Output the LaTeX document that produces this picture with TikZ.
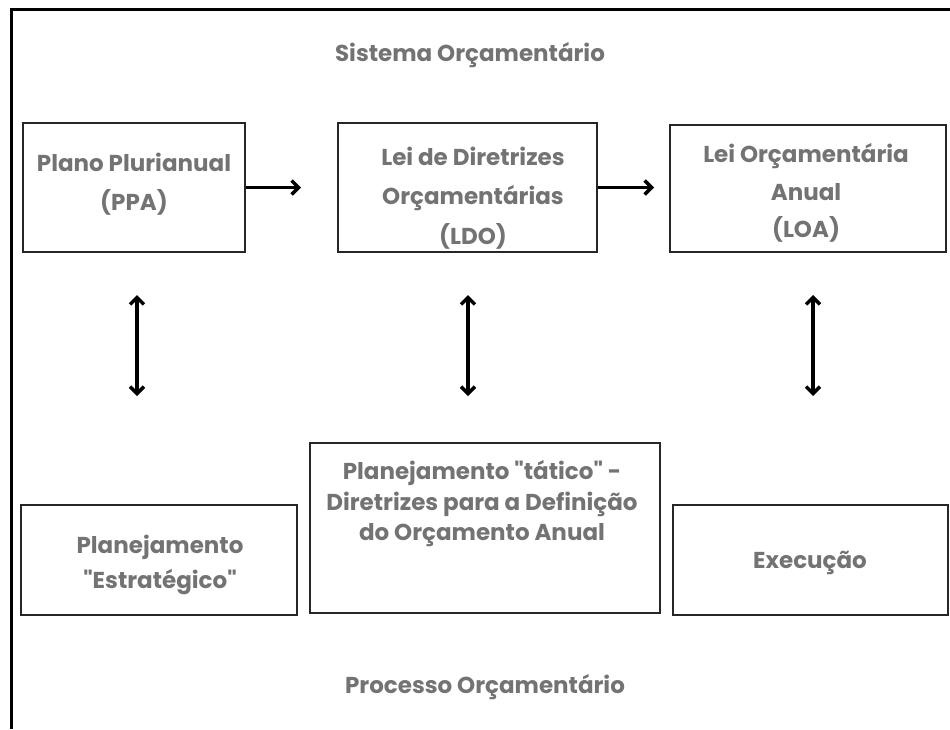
\documentclass[tikz,border=0pt]{standalone}
\usepackage{fontspec}
\setmainfont{Poppins}
\newfontfamily\qfont{Poppins}[Ligatures=TeXOff]
\usetikzlibrary{arrows.meta}
\definecolor{txtgray}{HTML}{737373}
\newcommand{\qq}{{\qfont\bfseries\symbol{34}}}
\begin{document}
\begin{tikzpicture}[x=1pt,y=-1pt,
  box/.style={draw=black!85, line width=2pt, rectangle, inner sep=0pt},
  boxtext/.style={inner sep=0pt, align=center, text=txtgray},
  fs/.style={font=\fontsize{23}{#1}\selectfont\bfseries},
  title/.style={text=txtgray, font=\fontsize{23}{28}\selectfont\bfseries, inner sep=0pt},
  arr/.style={line width=3.5pt, -{Straight Barb[length=7pt,width=14pt,line width=3.5pt]}},
  darr/.style={line width=3.5pt, {Straight Barb[length=7pt,width=14pt,line width=3.5pt]}-{Straight Barb[length=7pt,width=14pt,line width=3.5pt]}}]
\useasboundingbox (0,0) rectangle (950,729);
\fill[white] (0,0) rectangle (950,729);
% frame (top and left edges)
\draw[line width=3pt] (11,729) -- (11,9) -- (950,9);
% titles
\node[title] (sis) at (470,55) {Sistema Orçamentário};
\node[title] (proc) at (485,687) {Processo Orçamentário};
% top boxes
\node[box, minimum width=222pt, minimum height=129pt] (ppa) at (134,187.5) {};
\node[boxtext, fs=39] (ppat) at (134,184.5) {Plano Plurianual\\(PPA)};
\node[box, minimum width=259pt, minimum height=129pt] (ldo) at (467.5,187.5) {};
\node[boxtext, fs=39.5] (ldot) at (473,198) {Lei de Diretrizes\\Orçamentárias\\(LDO)};
\node[box, minimum width=276pt, minimum height=127pt] (loa) at (808,188.5) {};
\node[boxtext, fs=37.5] (loat) at (806,193) {Lei Orçamentária\\Anual\\(LOA)};
% bottom boxes
\node[box, minimum width=276pt, minimum height=110pt] (est) at (159,560) {};
\node[boxtext, fs=35] (estt) at (160,565) {Planejamento\\\qq Estratégico\qq};
\node[box, minimum width=350pt, minimum height=170pt] (tat) at (485,528) {};
\node[boxtext, fs=30.5] (tatt) at (482,504) {Planejamento \qq tático\qq{} -\\Diretrizes para a Definição\\do Orçamento Anual};
\node[box, minimum width=275pt, minimum height=110pt] (exe) at (810.5,560) {};
\node[boxtext, fs=28] (exet) at (810,563) {Execução};
% horizontal arrows
\draw[arr] (ppa.east) -- ([xshift=-36pt]ldo.west);
\draw[arr] (ldo.east) -- ([xshift=-15pt]loa.west |- ldo.east);
% vertical double arrows
\draw[darr] ([xshift=3pt]ppa.south) ++(0,42) -- ++(0,101);
\draw[darr] ([xshift=0.5pt]ldo.south) ++(0,42) -- ++(0,101);
\draw[darr] ([xshift=5pt]loa.south) ++(0,42) -- ++(0,101);
\end{tikzpicture}
\end{document}
